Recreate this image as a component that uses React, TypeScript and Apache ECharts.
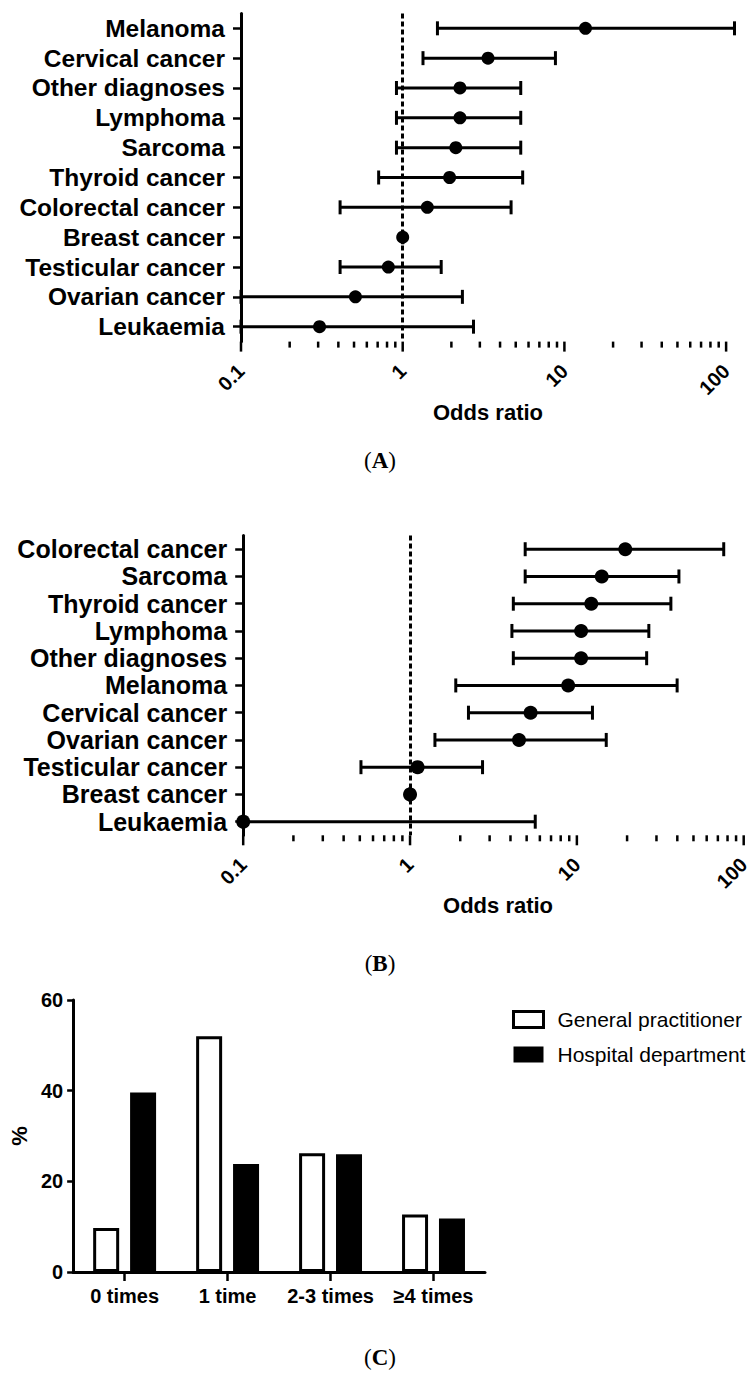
import React, { useEffect, useRef } from 'react';
import * as echarts from 'echarts';

// ---------- Panel A ----------
const CATS_A = ['Melanoma', 'Cervical cancer', 'Other diagnoses', 'Lymphoma', 'Sarcoma', 'Thyroid cancer', 'Colorectal cancer', 'Breast cancer', 'Testicular cancer', 'Ovarian cancer', 'Leukaemia'];
const OR_A = [13.5, 3.37, 2.26, 2.26, 2.13, 1.95, 1.42, 1, 0.815, 0.51, 0.306];
const LO_A = [1.64, 1.335, 0.915, 0.915, 0.915, 0.71, 0.41, 1, 0.41, 0.1, 0.1];
const HI_A = [112.7, 8.8, 5.37, 5.37, 5.37, 5.52, 4.68, 1, 1.73, 2.34, 2.74];

// ---------- Panel B ----------
const CATS_B = ['Colorectal cancer', 'Sarcoma', 'Thyroid cancer', 'Lymphoma', 'Other diagnoses', 'Melanoma', 'Cervical cancer', 'Ovarian cancer', 'Testicular cancer', 'Breast cancer', 'Leukaemia'];
const OR_B = [19.5, 14.1, 12.2, 10.6, 10.6, 8.87, 5.28, 4.5, 1.11, 1, 0.1];
const LO_B = [4.9, 4.9, 4.16, 4.08, 4.16, 1.88, 2.24, 1.41, 0.508, 1, 0.1];
const HI_B = [75.9, 40.9, 36.6, 27.0, 26.2, 39.9, 12.4, 15.0, 2.72, 1, 5.63];

// ---------- Log axis ticks ----------
const OR_TICKS = [0.1, 1, 10, 100];
const OR_TICK_LABELS = ['0.1', '1', '10', '100'];
const OR_MINOR = [0.2, 0.3, 0.4, 0.5, 0.6, 0.7, 0.8, 0.9, 2, 3, 4, 5, 6, 7, 8, 9, 20, 30, 40, 50, 60, 70, 80, 90];

// ---------- Panel C ----------
const CATS_C = ['0 times', '1 time', '2-3 times', '≥4 times'];
const GP = [9.7, 52.0, 26.2, 12.7];
const HD = [39.6, 23.8, 26.0, 11.8];
const SERIES_C = ['General practitioner', 'Hospital department'];

const SANS = "'Liberation Sans', Arial, Helvetica, sans-serif";
const SERIF = "'Liberation Serif', 'DejaVu Serif', serif";

function logLabel(v: number): string {
  for (let i = 0; i < OR_TICKS.length; i++) {
    if (Math.abs(Math.log10(v) - Math.log10(OR_TICKS[i])) < 1e-6) return OR_TICK_LABELS[i];
  }
  return '';
}

function errRender(cap: number, lw: number) {
  return (params: any, api: any) => {
    const lo = api.coord([api.value(0), api.value(2)]);
    const hi = api.coord([api.value(1), api.value(2)]);
    const st = { stroke: '#000', lineWidth: lw };
    return {
      type: 'group',
      children: [
        { type: 'line', shape: { x1: lo[0], y1: lo[1], x2: hi[0], y2: hi[1] }, style: st },
        { type: 'line', shape: { x1: lo[0], y1: lo[1] - cap, x2: lo[0], y2: lo[1] + cap }, style: st },
        { type: 'line', shape: { x1: hi[0], y1: hi[1] - cap, x2: hi[0], y2: hi[1] + cap }, style: st },
      ],
    };
  };
}

function tickRender(params: any, api: any) {
  const p = api.coord([api.value(0), 0]);
  const cs = params.coordSys;
  const y0 = cs.y + cs.height;
  const len = api.value(1) === 1 ? 10 : 6;
  return {
    type: 'line',
    shape: { x1: p[0], y1: y0, x2: p[0], y2: y0 + len },
    style: { stroke: '#000', lineWidth: 2.5 },
  };
}

const tickData = [...OR_TICKS.map((v) => [v, 1]), ...OR_MINOR.map((v) => [v, 0])];

function forestX(grid: number, nameGap: number) {
  return {
    type: 'log',
    logBase: 10,
    gridIndex: grid,
    min: 0.1,
    max: 113.5,
    splitLine: { show: false },
    axisTick: { show: false },
    minorTick: { show: false },
    axisLine: { lineStyle: { color: '#000', width: 3 } },
    axisLabel: {
      rotate: 45,
      margin: 26,
      color: '#000',
      fontFamily: SANS,
      fontWeight: 'bold',
      fontSize: 20,
      formatter: (v: number) => logLabel(v),
    },
    name: 'Odds ratio',
    nameLocation: 'middle',
    nameGap,
    nameTextStyle: { color: '#000', fontFamily: SANS, fontWeight: 'bold', fontSize: 22 },
  };
}

function forestY(grid: number, cats: string[], fs: number) {
  return {
    type: 'category',
    gridIndex: grid,
    data: cats,
    inverse: true,
    axisLine: { show: true, lineStyle: { color: '#000', width: 3 } },
    axisTick: { show: true, inside: false, alignWithLabel: true, interval: 0, length: 8, lineStyle: { color: '#000', width: 2.5 } },
    axisLabel: { interval: 0, color: '#000', fontFamily: SANS, fontWeight: 'bold', fontSize: fs, margin: 16 },
    splitLine: { show: false },
  };
}

function forestSeries(idx: number, lo: number[], hi: number[], or: number[], dot: number) {
  return [
    {
      type: 'custom',
      xAxisIndex: idx,
      yAxisIndex: idx,
      renderItem: errRender(7, 3),
      encode: { x: [0, 1], y: 2 },
      data: lo.map((v, i) => [v, hi[i], i]),
      z: 3,
    },
    {
      type: 'scatter',
      xAxisIndex: idx,
      yAxisIndex: idx,
      symbol: 'circle',
      symbolSize: dot,
      itemStyle: { color: '#000', opacity: 1 },
      data: or.map((v, i) => [v, i]),
      z: 4,
      markLine: {
        silent: true,
        symbol: ['none', 'none'],
        label: { show: false },
        lineStyle: { color: '#000', width: 3, type: [5, 3], opacity: 1 },
        data: [{ xAxis: 1 }],
      },
    },
    {
      type: 'custom',
      xAxisIndex: idx,
      yAxisIndex: idx,
      renderItem: tickRender,
      encode: { x: 0 },
      data: tickData,
      clip: false,
      silent: true,
    },
  ];
}

export default function App() {
  const ref = useRef<HTMLDivElement>(null);
  useEffect(() => {
    if (!ref.current) return;
    const chart = echarts.init(ref.current, undefined, { renderer: 'svg' });
    const option: any = {
      animation: false,
      backgroundColor: '#fff',
      grid: [
        { left: 241, top: 13.4, width: 494, height: 328.2 },
        { left: 243.2, top: 535.6, width: 525, height: 299.7 },
        { left: 73, top: 1000, width: 412, height: 272 },
      ],
      xAxis: [
        forestX(0, 53),
        forestX(1, 49),
        {
          type: 'category',
          gridIndex: 2,
          data: CATS_C,
          axisLine: { show: true, lineStyle: { color: '#000', width: 3 } },
          axisTick: { show: true, inside: false, alignWithLabel: true, interval: 0, length: 9, lineStyle: { color: '#000', width: 2.5 } },
          axisLabel: { interval: 0, color: '#000', fontFamily: SANS, fontWeight: 'bold', fontSize: 20, margin: 14 },
        },
      ],
      yAxis: [
        forestY(0, CATS_A, 24.5),
        forestY(1, CATS_B, 25),
        {
          type: 'value',
          gridIndex: 2,
          min: 0,
          max: 60,
          interval: 20,
          splitLine: { show: false },
          axisLine: { show: true, lineStyle: { color: '#000', width: 3 } },
          axisTick: { show: true, inside: false, length: 6, lineStyle: { color: '#000', width: 2.5 } },
          axisLabel: { color: '#000', fontFamily: SANS, fontWeight: 'bold', fontSize: 20, margin: 10 },
          name: '%',
          nameLocation: 'middle',
          nameRotate: 90,
          nameGap: 32,
          nameTextStyle: { color: '#000', fontFamily: SANS, fontWeight: 'bold', fontSize: 22 },
        },
      ],
      legend: {
        orient: 'vertical',
        left: 512,
        top: 1009,
        padding: 0,
        itemWidth: 30,
        itemHeight: 16,
        itemGap: 14,
        icon: 'rect',
        textStyle: { color: '#000', fontFamily: SANS, fontSize: 21, lineHeight: 17, padding: [0, 0, 0, 9] },
        data: [
          { name: SERIES_C[0], itemStyle: { color: '#fff', borderColor: '#000', borderWidth: 3 } },
          { name: SERIES_C[1], itemStyle: { color: '#000', borderWidth: 0 } },
        ],
      },
      series: [
        ...forestSeries(0, LO_A, HI_A, OR_A, 13),
        ...forestSeries(1, LO_B, HI_B, OR_B, 14),
        {
          type: 'bar',
          name: SERIES_C[0],
          xAxisIndex: 2,
          yAxisIndex: 2,
          barWidth: 26,
          barGap: '42%',
          itemStyle: { color: '#fff', borderColor: '#000', borderWidth: 3 },
          data: GP,
        },
        {
          type: 'bar',
          name: SERIES_C[1],
          xAxisIndex: 2,
          yAxisIndex: 2,
          barWidth: 26,
          barGap: '42%',
          itemStyle: { color: '#000' },
          data: HD,
        },
      ],
      graphic: [
        { lab: 'A', y: 460 },
        { lab: 'B', y: 963 },
        { lab: 'C', y: 1357 },
      ].map((c) => ({
        type: 'text',
        x: 380,
        y: c.y,
        style: {
          text: '{p|(}{b|' + c.lab + '}{p|)}',
          align: 'center',
          verticalAlign: 'middle',
          rich: {
            p: { fontFamily: SERIF, fontSize: 23, fill: '#000' },
            b: { fontFamily: SERIF, fontSize: 23, fontWeight: 'bold', fill: '#000' },
          },
        },
      })),
    };
    chart.setOption(option);
    return () => chart.dispose();
  }, []);
  return <div ref={ref} style={{ position: 'absolute', left: 0, top: 0, width: 755, height: 1380 }} />;
}
